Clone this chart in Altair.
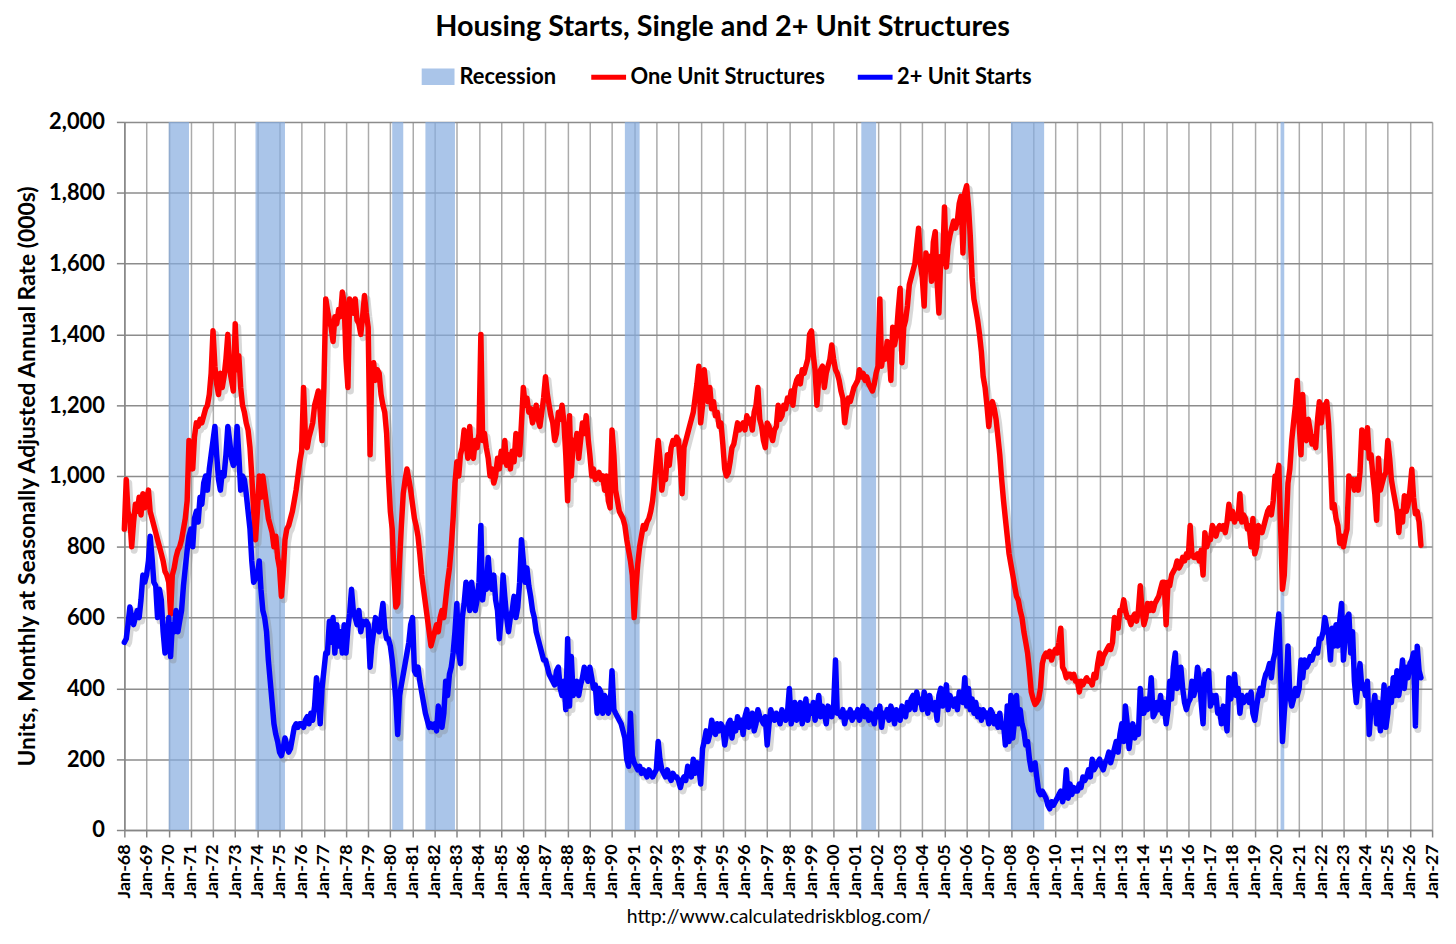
import altair as alt
import pandas as pd

# ---------------- data ----------------
# Monthly single-family (one unit) starts, SAAR, thousands, Jan-1968 .. Jul-2026
ONE_UNIT = [
    850, 990, 900, 880, 800, 870, 920, 900, 940, 890, 950, 910,          # 1968
    930, 960, 900, 880, 860, 840, 820, 800, 780, 760, 730, 720,          # 1969
    700, 610, 720, 740, 770, 790, 800, 820, 850, 880, 930, 1100,         # 1970
    1080, 1020, 1110, 1150, 1140, 1160, 1150, 1170, 1190, 1200, 1230, 1290,  # 1971
    1410, 1310, 1260, 1230, 1290, 1250, 1280, 1330, 1400, 1300, 1270, 1240,  # 1972
    1430, 1300, 1340, 1250, 1200, 1180, 1150, 1130, 1080, 1000, 900, 820,    # 1973
    900, 1000, 940, 1000, 960, 920, 880, 860, 840, 800, 830, 770,        # 1974
    740, 660, 720, 820, 850, 860, 880, 900, 930, 960, 1000, 1040,        # 1975
    1070, 1250, 1120, 1080, 1110, 1130, 1150, 1200, 1220, 1240, 1180, 1100,  # 1976
    1250, 1500, 1470, 1440, 1420, 1380, 1450, 1430, 1470, 1450, 1520, 1490,  # 1977
    1330, 1250, 1500, 1480, 1460, 1500, 1440, 1430, 1400, 1450, 1510, 1460,  # 1978
    1420, 1060, 1300, 1320, 1270, 1300, 1290, 1230, 1200, 1180, 1120, 1000,  # 1979
    900, 850, 720, 630, 640, 760, 860, 950, 990, 1020, 990, 960,         # 1980
    920, 880, 860, 830, 780, 720, 680, 640, 600, 560, 520, 540,          # 1981
    560, 580, 560, 600, 620, 600, 650, 700, 740, 800, 880, 980,          # 1982
    1040, 1000, 1060, 1080, 1130, 1100, 1050, 1140, 1060, 1050, 1100, 1080,  # 1983
    1120, 1400, 1100, 1120, 1080, 1050, 1000, 1020, 980, 1000, 1050, 1020,   # 1984
    1070, 1040, 1100, 1030, 1060, 1020, 1070, 1040, 1120, 1090, 1060, 1150,  # 1985
    1250, 1200, 1220, 1180, 1190, 1150, 1170, 1200, 1160, 1140, 1180, 1220,  # 1986
    1280, 1230, 1200, 1170, 1150, 1100, 1120, 1180, 1160, 1200, 1150, 1060,  # 1987
    930, 1170, 1000, 1100, 1080, 1120, 1050, 1100, 1150, 1120, 1170, 1110,   # 1988
    1060, 1000, 1020, 990, 1000, 1010, 990, 1000, 960, 1000, 930, 910,   # 1989
    1130, 1060, 960, 930, 900, 890, 880, 860, 820, 790, 760, 720,        # 1990
    600, 690, 750, 800, 830, 860, 850, 870, 880, 900, 930, 980,          # 1991
    1040, 1100, 1050, 960, 1000, 990, 1060, 1030, 1080, 1100, 1090, 1110,    # 1992
    1100, 1030, 950, 1080, 1100, 1120, 1140, 1160, 1180, 1220, 1260, 1310,   # 1993
    1150, 1200, 1300, 1250, 1210, 1250, 1190, 1210, 1170, 1180, 1140, 1150,  # 1994
    1090, 1020, 1000, 1010, 1040, 1080, 1090, 1120, 1150, 1130, 1140, 1150,  # 1995
    1130, 1170, 1150, 1160, 1130, 1180, 1200, 1250, 1160, 1140, 1100, 1080,  # 1996
    1150, 1140, 1120, 1100, 1130, 1140, 1200, 1160, 1170, 1200, 1190, 1220,  # 1997
    1210, 1240, 1200, 1250, 1270, 1280, 1260, 1300, 1290, 1310, 1330, 1400,  # 1998
    1410, 1340, 1300, 1200, 1280, 1300, 1310, 1250, 1290, 1310, 1330, 1370,  # 1999
    1330, 1300, 1290, 1270, 1240, 1220, 1150, 1190, 1220, 1210, 1230, 1250,  # 2000
    1260, 1270, 1300, 1280, 1290, 1270, 1280, 1260, 1250, 1240, 1260, 1290,  # 2001
    1310, 1500, 1310, 1350, 1330, 1380, 1360, 1270, 1420, 1370, 1400, 1470,  # 2002
    1530, 1320, 1420, 1440, 1480, 1540, 1560, 1580, 1600, 1650, 1700, 1600,  # 2003
    1560, 1480, 1630, 1600, 1620, 1550, 1660, 1690, 1550, 1460, 1620, 1600,  # 2004
    1760, 1590, 1650, 1680, 1700, 1720, 1700, 1720, 1770, 1790, 1630, 1800,  # 2005
    1820, 1760, 1680, 1560, 1500, 1470, 1440, 1400, 1350, 1280, 1250, 1200,  # 2006
    1140, 1200, 1210, 1190, 1160, 1110, 1060, 990, 930, 880, 830, 780,   # 2007
    750, 720, 690, 660, 650, 620, 600, 560, 530, 500, 450, 390,          # 2008
    370, 355, 360, 370, 400, 470, 490, 500, 490, 505, 480, 500,          # 2009
    510, 500, 530, 570, 460, 450, 430, 440, 440, 430, 440, 420,          # 2010
    420, 390, 420, 410, 420, 430, 420, 420, 410, 440, 430, 470,          # 2011
    500, 470, 490, 500, 510, 520, 510, 530, 600, 590, 570, 620,          # 2012
    620, 650, 620, 600, 600, 580, 600, 610, 590, 620, 690, 620,          # 2013
    580, 600, 640, 620, 640, 620, 640, 650, 660, 680, 700, 700,          # 2014
    580, 700, 690, 720, 730, 740, 760, 740, 750, 770, 760, 780,          # 2015
    770, 860, 780, 770, 770, 780, 760, 790, 720, 840, 800, 820,          # 2016
    820, 860, 850, 830, 850, 860, 850, 860, 840, 870, 920, 880,          # 2017
    900, 870, 890, 880, 950, 870, 890, 880, 850, 860, 800, 880,          # 2018
    780, 800, 860, 850, 840, 860, 880, 900, 910, 890, 930, 1000,         # 2019
    1000, 1030, 860, 680, 720, 850, 980, 1020, 1100, 1150, 1200, 1270,   # 2020
    1150, 1060, 1230, 1110, 1100, 1160, 1130, 1090, 1110, 1080, 1160, 1210,  # 2021
    1150, 1200, 1190, 1210, 1150, 1040, 910, 920, 880, 860, 810, 830,    # 2022
    800, 830, 850, 1000, 980, 990, 960, 990, 960, 1010, 1130, 1100,      # 2023
    1080, 1136, 1050, 1060, 1000, 950, 875, 1050, 960, 980, 1000, 1010,  # 2024
    1100, 1050, 990, 958, 930, 900, 840, 900, 870, 944, 900, 920,        # 2025
    960, 1019, 940, 893, 900, 870, 804,                                  # 2026
]

# Monthly 2+ unit starts, SAAR, thousands, Jan-1968 .. Jul-2026
MULTI_UNIT = [
    530, 540, 580, 630, 600, 580, 600, 620, 600, 650, 720, 700,          # 1968
    720, 760, 830, 770, 700, 690, 600, 680, 650, 560, 500, 530,          # 1969
    600, 490, 580, 560, 620, 560, 590, 620, 690, 740, 790, 830,          # 1970
    850, 800, 880, 900, 870, 940, 920, 980, 1000, 960, 1020, 1060,       # 1971
    1100, 1140, 1060, 990, 960, 1010, 1000, 1060, 1140, 1100, 1050, 1030,    # 1972
    1040, 1140, 1060, 960, 1000, 990, 950, 900, 850, 760, 700, 710,      # 1973
    720, 760, 680, 620, 600, 560, 480, 420, 360, 300, 270, 250,          # 1974
    220, 210, 230, 260, 240, 220, 230, 260, 290, 300, 290, 300,          # 1975
    300, 290, 310, 320, 300, 330, 310, 350, 430, 380, 300, 400,          # 1976
    450, 500, 500, 590, 530, 600, 500, 580, 520, 560, 500, 580,          # 1977
    500, 570, 610, 680, 620, 600, 580, 620, 560, 590, 580, 590,          # 1978
    580, 460, 520, 560, 600, 570, 560, 600, 640, 570, 540, 540,          # 1979
    520, 480, 430, 370, 270, 380, 410, 440, 470, 500, 530, 580,          # 1980
    600, 450, 440, 460, 420, 390, 360, 330, 310, 290, 300, 290,          # 1981
    300, 280, 350, 320, 290, 330, 420, 380, 440, 460, 500, 560,          # 1982
    640, 500, 470, 600, 640, 700, 680, 620, 700, 660, 620, 650,          # 1983
    700, 860, 650, 700, 680, 770, 700, 680, 720, 650, 620, 540,          # 1984
    600, 720, 660, 600, 560, 600, 620, 660, 600, 630, 700, 820,          # 1985
    760, 700, 740, 690, 660, 620, 600, 560, 540, 520, 500, 480,          # 1986
    480, 460, 440, 430, 420, 410, 450, 460, 400, 380, 420, 340,          # 1987
    540, 350, 490, 380, 400, 420, 380, 410, 430, 460, 440, 420,          # 1988
    460, 430, 400, 410, 330, 400, 390, 330, 380, 370, 330, 350,          # 1989
    450, 340, 330, 320, 310, 300, 280, 260, 200, 180, 330, 210,          # 1990
    190, 180, 170, 180, 160, 170, 160, 150, 170, 160, 150, 160,          # 1991
    170, 250, 200, 170, 160, 150, 170, 150, 140, 160, 150, 150,          # 1992
    140, 120, 140, 150, 140, 180, 160, 150, 200, 160, 190, 180,          # 1993
    130, 230, 250, 280, 250, 270, 310, 290, 270, 300, 280, 300,          # 1994
    290, 240, 270, 300, 310, 260, 300, 280, 320, 290, 310, 270,          # 1995
    320, 340, 290, 310, 330, 280, 300, 340, 320, 310, 300, 320,          # 1996
    240, 300, 340, 320, 310, 330, 320, 300, 340, 320, 310, 330,          # 1997
    400, 300, 330, 360, 310, 340, 360, 300, 330, 370, 310, 350,          # 1998
    330, 360, 310, 340, 380, 320, 350, 330, 300, 350, 340, 320,          # 1999
    350, 480, 330, 330, 320, 340, 300, 330, 320, 340, 310, 330,          # 2000
    320, 340, 310, 330, 350, 320, 340, 310, 330, 320, 300, 340,          # 2001
    320, 350, 290, 330, 320, 340, 310, 350, 330, 300, 340, 320,          # 2002
    310, 350, 330, 320, 360, 340, 370, 380, 340, 390, 360, 370,          # 2003
    340, 390, 360, 330, 380, 350, 340, 360, 310, 380, 400, 350,          # 2004
    360, 410, 340, 380, 360, 350, 370, 340, 390, 380, 360, 430,          # 2005
    350, 400, 340, 370, 330, 360, 320, 340, 310, 340, 320, 330,          # 2006
    300, 340, 330, 300, 320, 290, 330, 290, 300, 240, 350, 250,          # 2007
    380, 260, 310, 380, 300, 340, 300, 280, 240, 250, 200, 170,          # 2008
    180, 190, 150, 110, 100, 110, 100, 90, 70, 60, 80, 70,               # 2009
    80, 90, 100, 110, 80, 100, 170, 90, 130, 100, 120, 110,              # 2010
    110, 130, 120, 150, 140, 150, 170, 150, 200, 170, 180, 190,          # 2011
    200, 180, 170, 190, 200, 220, 190, 210, 230, 250, 220, 270,          # 2012
    300, 250, 350, 300, 230, 280, 300, 260, 290, 270, 400, 330,          # 2013
    330, 370, 340, 360, 430, 320, 330, 360, 340, 380, 330, 360,          # 2014
    300, 340, 420, 370, 460, 500, 400, 420, 460, 400, 360, 340,          # 2015
    360, 370, 420, 380, 400, 460, 430, 360, 300, 440, 410, 450,          # 2016
    350, 380, 360, 380, 330, 340, 300, 350, 320, 280, 430, 370,          # 2017
    400, 440, 380, 400, 330, 380, 360, 370, 380, 360, 390, 330,          # 2018
    310, 350, 380, 400, 380, 420, 440, 450, 470, 430, 480, 500,          # 2019
    560, 610, 450, 250, 330, 400, 520, 380, 350, 370, 400, 380,          # 2020
    400, 480, 430, 480, 460, 470, 490, 480, 500, 510, 500, 540,          # 2021
    540, 560, 600, 570, 550, 480, 570, 520, 580, 520, 590, 640,          # 2022
    480, 550, 600, 610, 500, 560, 420, 360, 420, 470, 400, 410,          # 2023
    380, 420, 270, 350, 340, 380, 300, 360, 280, 330, 410, 290,          # 2024
    330, 400, 360, 430, 380, 450, 380, 420, 480, 400, 460, 430,          # 2025
    470, 480, 500, 294, 519, 450, 430,                                   # 2026
]

SERIES = ["One Unit Structures", "2+ Unit Starts"]
SERIES_COLORS = ["#FF0000", "#0000FF"]

# Recession months (first month in recession, first month after it)
REC_START = ["1970-01-01", "1973-12-01", "1980-02-01", "1981-08-01",
             "1990-08-01", "2001-04-01", "2008-01-01", "2020-03-01"]
REC_END = ["1970-12-01", "1975-04-01", "1980-08-01", "1982-12-01",
           "1991-04-01", "2001-12-01", "2009-07-01", "2020-05-01"]

X_YEARS = list(range(1968, 2028))
Y_TICKS = list(range(0, 2001, 200))

TITLE = "Housing Starts, Single and 2+ Unit Structures"
Y_TITLE = "Units, Monthly at Seasonally Adjusted Annual Rate (000s)"
SOURCE = "http://www.calculatedriskblog.com/"

# ---------------- tables ----------------
dates = pd.date_range("1968-01-01", periods=len(ONE_UNIT), freq="MS").strftime("%Y-%m-%d")
lines = pd.DataFrame({"date": dates, SERIES[0]: ONE_UNIT, SERIES[1]: MULTI_UNIT})
lines = lines.melt("date", var_name="series", value_name="value")
rec = pd.DataFrame({"start": REC_START, "end": REC_END, "kind": "Recession"})

FONT = "Lato"
AXIS_GREY = "#868686"

x_scale = alt.Scale(
    type="utc",
    domain=[alt.DateTime(year=X_YEARS[0], month=1, date=1, utc=True),
            alt.DateTime(year=X_YEARS[-1], month=1, date=1, utc=True)],
    nice=False,
)
x_axis = alt.Axis(
    values=[alt.DateTime(year=y, month=1, date=1, utc=True) for y in X_YEARS],
    format="%b-%y", labelAngle=-90, labelFont=FONT, labelFontSize=18,
    labelFontWeight="bold", labelColor="black", labelPadding=7,
    labelOverlap=False, labelFlush=False, labelBound=False,
    tickSize=7, tickColor=AXIS_GREY, tickWidth=1.5,
    domainColor=AXIS_GREY, domainWidth=1.5,
    grid=True, gridColor="#ABABAB", gridWidth=1.5,
    title=SOURCE, titleFont=FONT, titleFontSize=19.5, titleFontWeight="normal",
    titleColor="black", titleY=87, titleBaseline="middle",
)
y_scale = alt.Scale(domain=[0, 2000], nice=False)
y_axis = alt.Axis(
    values=Y_TICKS, format=",.0f", labelFont=FONT, labelFontSize=22,
    labelFontWeight="bold", labelColor="black", labelPadding=12,
    tickSize=8, tickColor=AXIS_GREY, tickWidth=1.5,
    domainColor=AXIS_GREY, domainWidth=1.5,
    grid=True, gridColor="#8C8C8C", gridWidth=1.5,
    title=Y_TITLE, titleFont=FONT, titleFontSize=23, titleFontWeight="bold",
    titleColor="black", titleX=-97, titleBaseline="middle",
)

legend_common = dict(
    orient="none", direction="horizontal", title=None,
    labelFont=FONT, labelFontSize=22, labelFontWeight="bold",
    labelColor="black", labelLimit=400,
)

bands = alt.Chart(rec).mark_rect(opacity=0.7).encode(
    x=alt.X("start:T", scale=x_scale, axis=x_axis),
    x2="end:T",
    fill=alt.Fill(
        "kind:N",
        scale=alt.Scale(domain=["Recession"], range=["#86ADE0"]),
        legend=alt.Legend(legendX=299, legendY=-62,
                          symbolType="M-1,-0.5H1V0.5H-1Z", symbolSize=1089,
                          symbolStrokeWidth=0, symbolOpacity=0.7,
                          labelOffset=5, **legend_common),
    ),
)

base = alt.Chart(lines)
x_enc = alt.X("date:T", scale=x_scale, axis=x_axis)
y_enc = alt.Y("value:Q", scale=y_scale, axis=y_axis)

shadow = base.mark_line(
    color="#7F7F7F", opacity=0.3, strokeWidth=7, strokeJoin="round",
    xOffset=2.5, yOffset=3.5,
).encode(x=x_enc, y=y_enc, detail="series:N")

stroke_enc = alt.Stroke(
    "series:N",
    scale=alt.Scale(domain=SERIES, range=SERIES_COLORS),
    legend=alt.Legend(legendX=467, legendY=-65, symbolType="stroke",
                      symbolSize=1225, symbolStrokeWidth=5, labelOffset=2,
                      columnPadding=22, **legend_common),
)

one_line = base.transform_filter(alt.datum.series == SERIES[0]).mark_line(
    strokeWidth=5.5, strokeJoin="round", strokeCap="round"
).encode(x=x_enc, y=y_enc, stroke=stroke_enc)

multi_line = base.transform_filter(alt.datum.series == SERIES[1]).mark_line(
    strokeWidth=5.5, strokeJoin="round", strokeCap="round"
).encode(x=x_enc, y=y_enc, stroke=stroke_enc)

chart = alt.layer(bands, shadow, one_line, multi_line).properties(
    width=1315,
    height=712,
    title=alt.Title(TITLE, font=FONT, fontSize=29, fontWeight="bold",
                    color="black", anchor="middle", dx=-56, offset=-8,
                    baseline="alphabetic"),
    padding={"left": 117, "top": 112, "right": 16, "bottom": 104},
    autosize=alt.AutoSizeParams(type="none"),
).configure_view(stroke=None).configure(background="white")

chart.save("out.html", embed_options={"renderer": "svg", "actions": False})
